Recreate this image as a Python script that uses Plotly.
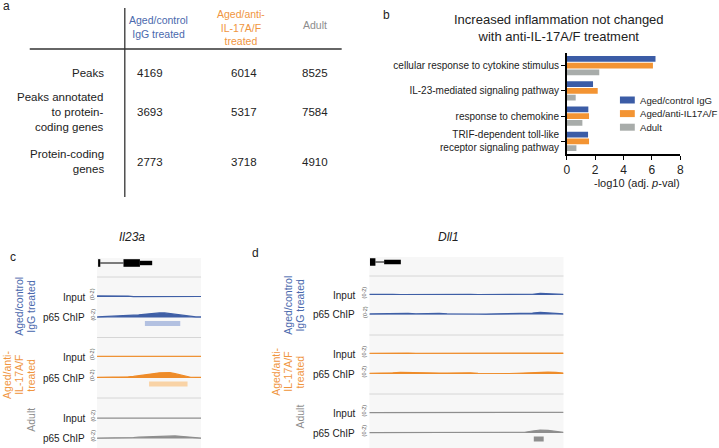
import plotly.graph_objects as go

W, H = 719, 448
FONT = "Liberation Sans, Arial, Helvetica, sans-serif"
INK = "#222222"

# ---- panel a: peak counts table
TABLE_GROUPS = ["Aged/control<br>IgG treated", "Aged/anti-<br>IL-17A/F<br>treated", "Adult"]
TABLE_ROWS = ["Peaks", "Peaks annotated<br>to protein-<br>coding genes", "Protein-coding<br>genes"]
PEAKS = [4169, 6014, 8525]
PEAKS_PROTEIN = [3693, 5317, 7584]
PROTEIN_GENES = [2773, 3718, 4910]

# ---- panel b: GO enrichment
GO_TERMS = ["cellular response to cytokine stimulus",
            "IL-23-mediated signaling pathway",
            "response to chemokine",
            "TRIF-dependent toll-like<br>receptor signaling pathway"]
SERIES = ["Aged/control IgG", "Aged/anti-IL17A/F", "Adult"]
LOGP_IGG = [6.25, 1.85, 1.52, 1.50]
LOGP_ANTI = [6.07, 2.18, 1.57, 1.57]
LOGP_ADULT = [2.29, 0.63, 1.10, 0.68]
XTICKS = [0, 2, 4, 6, 8]

# ---- panels c/d: genome tracks (relative position 0-100, signal 0-2)
TRACK_GROUPS = [["Aged/control", "IgG treated"], ["Aged/anti-", "IL-17A/F", "treated"], ["Adult"]]
TRACK_NAMES = ["Input", "p65 ChIP"]

IL23A_POS = [0, 5, 10, 15, 20, 25, 30, 35, 40, 45, 50, 55, 60, 65, 70, 75, 80, 85, 90, 95, 100]
IL23A_IGG_INPUT = [0.14, 0.15, 0.14, 0.15, 0.14, 0.13, 0.12, 0.06, 0.06, 0.06, 0.06, 0.06, 0.06, 0.06, 0.06, 0.06, 0.06, 0.06, 0.06, 0.06, 0.07]
IL23A_IGG_P65 = [0.08, 0.10, 0.12, 0.13, 0.15, 0.18, 0.20, 0.25, 0.32, 0.40, 0.48, 0.55, 0.58, 0.58, 0.50, 0.38, 0.27, 0.17, 0.10, 0.08, 0.08]
IL23A_ANTI_INPUT = [0.10, 0.10, 0.10, 0.10, 0.10, 0.10, 0.12, 0.10, 0.10, 0.10, 0.10, 0.10, 0.12, 0.10, 0.10, 0.10, 0.10, 0.10, 0.10, 0.14, 0.10]
IL23A_ANTI_P65 = [0.08, 0.08, 0.08, 0.09, 0.10, 0.12, 0.15, 0.20, 0.27, 0.35, 0.45, 0.56, 0.66, 0.71, 0.68, 0.55, 0.38, 0.22, 0.10, 0.08, 0.08]
IL23A_ADULT_INPUT = [0.07, 0.08, 0.10, 0.10, 0.08, 0.07, 0.07, 0.07, 0.07, 0.07, 0.07, 0.07, 0.07, 0.07, 0.07, 0.07, 0.07, 0.07, 0.07, 0.07, 0.07]
IL23A_ADULT_P65 = [0.06, 0.06, 0.06, 0.07, 0.07, 0.08, 0.10, 0.13, 0.17, 0.20, 0.25, 0.30, 0.33, 0.36, 0.37, 0.33, 0.27, 0.20, 0.13, 0.08, 0.06]
IL23A_PEAK_GROUP = [0, 1]
IL23A_PEAK_START = [46, 50]
IL23A_PEAK_END = [80, 87]
IL23A_EXON_START = [1.0, 25.4, 41.2]
IL23A_EXON_END = [3.1, 41.2, 53.0]
IL23A_EXON_KIND = ["cds", "cds", "utr"]

DLL1_POS = [0, 4, 8, 12, 16, 20, 24, 28, 32, 36, 40, 44, 48, 52, 56, 60, 64, 68, 72, 76, 80, 84, 88, 92, 96, 100]
DLL1_IGG_INPUT = [0.08, 0.10, 0.15, 0.08, 0.07, 0.08, 0.07, 0.07, 0.08, 0.07, 0.08, 0.12, 0.15, 0.10, 0.07, 0.07, 0.10, 0.07, 0.07, 0.08, 0.07, 0.10, 0.20, 0.15, 0.10, 0.08]
DLL1_IGG_P65 = [0.08, 0.10, 0.07, 0.08, 0.10, 0.14, 0.10, 0.14, 0.10, 0.15, 0.10, 0.07, 0.10, 0.08, 0.07, 0.06, 0.08, 0.07, 0.08, 0.10, 0.10, 0.18, 0.28, 0.20, 0.10, 0.08]
DLL1_ANTI_INPUT = [0.10, 0.12, 0.14, 0.14, 0.13, 0.12, 0.10, 0.10, 0.09, 0.10, 0.12, 0.10, 0.14, 0.12, 0.09, 0.10, 0.10, 0.09, 0.10, 0.10, 0.10, 0.12, 0.14, 0.13, 0.12, 0.12]
DLL1_ANTI_P65 = [0.10, 0.10, 0.12, 0.15, 0.22, 0.20, 0.10, 0.12, 0.13, 0.12, 0.12, 0.14, 0.18, 0.15, 0.10, 0.08, 0.06, 0.08, 0.07, 0.10, 0.15, 0.22, 0.26, 0.24, 0.20, 0.12]
DLL1_ADULT_INPUT = [0.06, 0.06, 0.06, 0.07, 0.06, 0.06, 0.05, 0.05, 0.06, 0.06, 0.05, 0.07, 0.08, 0.07, 0.05, 0.05, 0.05, 0.05, 0.05, 0.06, 0.07, 0.06, 0.07, 0.08, 0.12, 0.10]
DLL1_ADULT_P65 = [0.06, 0.06, 0.07, 0.08, 0.10, 0.12, 0.08, 0.07, 0.08, 0.07, 0.06, 0.07, 0.08, 0.07, 0.06, 0.05, 0.05, 0.05, 0.05, 0.06, 0.10, 0.25, 0.38, 0.34, 0.18, 0.08]
DLL1_PEAK_GROUP = [2]
DLL1_PEAK_START = [84.7]
DLL1_PEAK_END = [89.8]
DLL1_EXON_START = [0.3, 7.6]
DLL1_EXON_END = [3.1, 16.2]
DLL1_EXON_KIND = ["cds", "utr"]

BAR_COLORS = ["#3b5ca6", "#f39433", "#a8acaa"]
TEXT_COLORS = ["#4a69ad", "#f0953e", "#8d8d8d"]
TRACK_COLORS = ["#3f5fa6", "#ee8c2a", "#8e8e8e"]
PEAK_COLORS = ["#b3c1e1", "#f9d3a6", "#8f8f8f"]

ann = []
shp = []


def px(x):
    return x / W


def py(y):
    return 1 - y / H


def text(s, x, y, size=11, color=INK, xanchor="center", angle=0, align="center"):
    ann.append(dict(text=s, x=px(x), y=py(y), xref="paper", yref="paper",
                    xanchor=xanchor, yanchor="middle", showarrow=False,
                    textangle=angle, align=align,
                    font=dict(family=FONT, size=size, color=color)))


def rect(x0, y0, x1, y1, color, xref="paper", layer="above"):
    xa = (px(x0), px(x1)) if xref == "paper" else (x0, x1)
    shp.append(dict(type="rect", xref=xref, yref="paper", x0=xa[0], x1=xa[1],
                    y0=py(y1), y1=py(y0), fillcolor=color, line_width=0, layer=layer))


def hline(x0, x1, y, color, width=1, xref="paper", layer="above"):
    xa = (px(x0), px(x1)) if xref == "paper" else (x0, x1)
    shp.append(dict(type="line", xref=xref, yref="paper", x0=xa[0], x1=xa[1],
                    y0=py(y), y1=py(y), line=dict(color=color, width=width), layer=layer))


fig = go.Figure()

# ---------------- panel a
text("a", 4, 6, 12)
shp.append(dict(type="line", xref="paper", yref="paper", x0=px(123), x1=px(123),
                y0=py(8), y1=py(197), line=dict(color="#333", width=1.3)))
hline(27, 342, 49, "#333", 1.3)
for g, x, y, col in zip(TABLE_GROUPS, [157, 240, 315], [26.7, 27.5, 25], TEXT_COLORS):
    text(g, x, y, 10.5, col)
for row, vals, y in zip(TABLE_ROWS, [PEAKS, PEAKS_PROTEIN, PROTEIN_GENES], [72.7, 111.7, 161.7]):
    text(row, 104, y, 11.5, xanchor="right", align="right")
    for v, x in zip(vals, [148.5, 243, 315]):
        text(str(v), x, y, 11.5)

# ---------------- panel b
text("b", 387, 15, 12)
text("Increased inflammation not changed<br>with anti-IL-17A/F treatment", 561, 27.5, 13)
for name, vals, col in zip(SERIES, [LOGP_IGG, LOGP_ANTI, LOGP_ADULT], BAR_COLORS):
    fig.add_trace(go.Bar(y=GO_TERMS, x=vals, orientation="h", name=name,
                         marker=dict(color=col, line_width=0), showlegend=False,
                         xaxis="x", yaxis="y"))
text("-log10 (adj. <i>p</i>-val)", 640.5, 183, 11)
for i, (name, col) in enumerate(zip(SERIES, BAR_COLORS)):
    yc = 100 + i * 13.6
    rect(623, yc - 3.5, 638, yc + 3.5, col)
    text(name, 641, yc, 9.6, xanchor="left")

# ---------------- panels c and d: tracks
panels = [
    dict(letter="c", letter_xy=(10, 257), gene="<i>Il23a</i>", gene_xy=(130, 237),
         x0=95, x1=200, top=258, gene_y=263, seps=[277, 337.5, 398],
         bases=[297, 317.5, 357, 378, 418.5, 438.5], label_x=85, scale_x=90,
         group_x=28, group_y=[306, 375, 420], pos=IL23A_POS,
         signals=[IL23A_IGG_INPUT, IL23A_IGG_P65, IL23A_ANTI_INPUT,
                  IL23A_ANTI_P65, IL23A_ADULT_INPUT, IL23A_ADULT_P65],
         peaks=(IL23A_PEAK_GROUP, IL23A_PEAK_START, IL23A_PEAK_END),
         exons=(IL23A_EXON_START, IL23A_EXON_END, IL23A_EXON_KIND)),
    dict(letter="d", letter_xy=(255, 253), gene="<i>Dll1</i>", gene_xy=(450, 237),
         x0=370, x1=566, top=257, gene_y=262, seps=[276, 335, 394],
         bases=[295, 314.5, 354, 374, 413, 433], label_x=357, scale_x=365,
         group_x=299.5, group_y=[305, 372, 417], pos=DLL1_POS,
         signals=[DLL1_IGG_INPUT, DLL1_IGG_P65, DLL1_ANTI_INPUT,
                  DLL1_ANTI_P65, DLL1_ADULT_INPUT, DLL1_ADULT_P65],
         peaks=(DLL1_PEAK_GROUP, DLL1_PEAK_START, DLL1_PEAK_END),
         exons=(DLL1_EXON_START, DLL1_EXON_END, DLL1_EXON_KIND)),
]

layout_axes = {}
yn = 2
for k, p in enumerate(panels):
    xn = k + 2
    xname = f"x{xn}"
    text(p["letter"], *p["letter_xy"], 12)
    text(p["gene"], *p["gene_xy"], 12)
    rect(p["x0"], p["top"], p["x1"], H, "#f7f7f7", layer="below")
    for s in p["seps"]:
        hline(p["x0"], p["x1"], s, "#d6d6d6", 1, layer="below")
    layout_axes[f"xaxis{xn}"] = dict(domain=[px(p["x0"]), px(p["x1"])], range=[0, 100],
                                     anchor=f"y{yn}", visible=False, fixedrange=True)
    for i, (vals, base) in enumerate(zip(p["signals"], p["bases"])):
        col = TRACK_COLORS[i // 2]
        fig.add_trace(go.Scatter(x=p["pos"], y=vals, xaxis=xname, yaxis=f"y{yn}",
                                 mode="lines", line=dict(color=col, width=1.2),
                                 fill="tozeroy", fillcolor=col, hoverinfo="skip",
                                 showlegend=False))
        layout_axes[f"yaxis{yn}"] = dict(domain=[py(base + 1), py(base - 16)], range=[-0.12, 2],
                                         anchor=xname, visible=False, fixedrange=True)
        text(TRACK_NAMES[i % 2], p["label_x"], base, 10, xanchor="right")
        text("(0-2)", p["scale_x"], base - 3, 5.5, "#555", angle=-90)
        yn += 1
    # rotated group labels, one annotation per line (last line nearest the tracks)
    for lines, gy, col in zip(TRACK_GROUPS, p["group_y"], TEXT_COLORS):
        n = len(lines)
        for j, ln in enumerate(lines):
            text(ln, p["group_x"] - (n - 1 - j) * 12, gy, 10.5, col, angle=-90)
    grp, st, en = p["peaks"]
    for g, a, b in zip(grp, st, en):
        yb = p["bases"][g * 2 + 1]
        rect(a, yb + 3.5, b, yb + 8.5, PEAK_COLORS[g], xref=xname)
    es, ee, ek = p["exons"]
    gy = p["gene_y"]
    for i in range(len(es) - 1):
        hline(ee[i], es[i + 1], gy, "black", 1, xref=xname)
    for a, b, kind in zip(es, ee, ek):
        h = 3.8 if kind == "cds" else 2.2
        rect(a, gy - h, b, gy + h, "black", xref=xname)

fig.update_layout(
    width=W, height=H, margin=dict(l=0, r=0, t=0, b=0),
    paper_bgcolor="white", plot_bgcolor="rgba(0,0,0,0)",
    barmode="group", bargap=0.2, bargroupgap=0.12,
    font=dict(family=FONT, color=INK),
    xaxis=dict(domain=[px(569.3), px(684)], range=[0, 8], tickvals=XTICKS,
               showline=True, linecolor="black", linewidth=1.5, ticks="outside",
               ticklen=4, tickwidth=1.3, tickcolor="black", showgrid=False,
               zeroline=False, anchor="y", fixedrange=True,
               tickfont=dict(family=FONT, size=12, color=INK)),
    yaxis=dict(domain=[py(154), py(53)], categoryorder="array", categoryarray=GO_TERMS,
               autorange="reversed", showline=True, linecolor="black", linewidth=1.5,
               ticks="outside", ticklen=4, tickwidth=1.3, tickcolor="black",
               showgrid=False, anchor="x", fixedrange=True,
               tickfont=dict(family=FONT, size=10, color=INK)),
    annotations=ann, shapes=shp,
    **layout_axes,
)

# drop the browser's default 8px body margin so the figure fills the window
fig.write_html("out.html", config={"displayModeBar": False},
               post_script="document.body.style.margin='0';")
